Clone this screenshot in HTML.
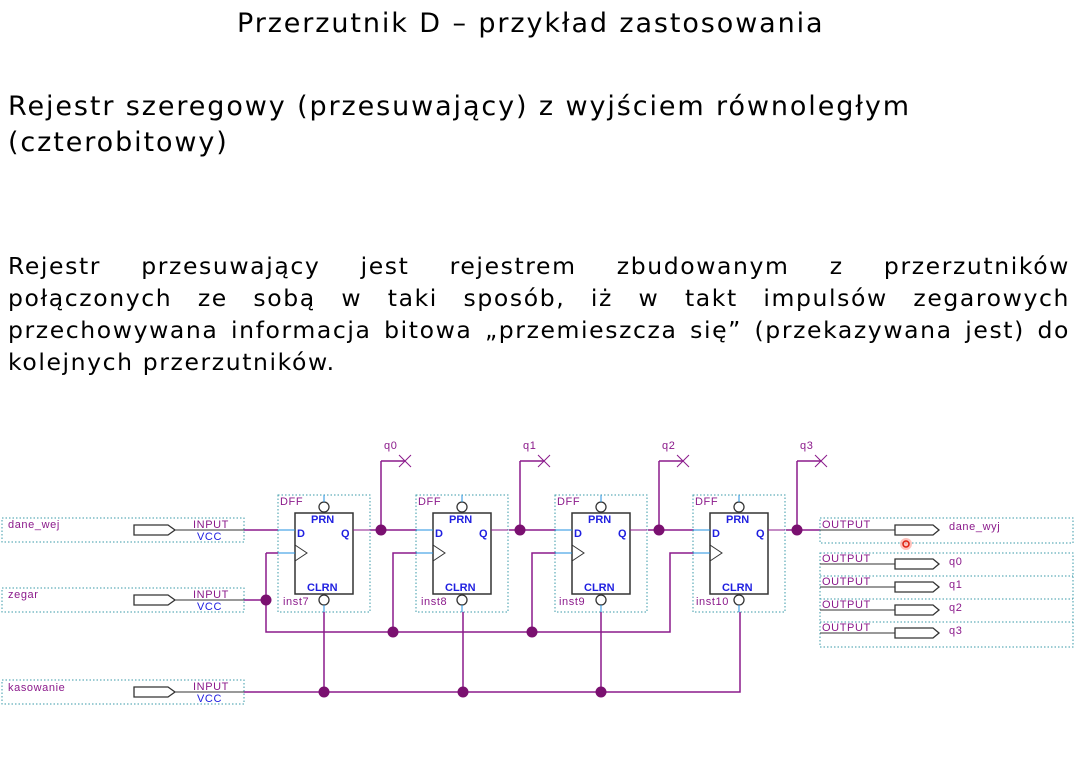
<!DOCTYPE html>
<html><head><meta charset="utf-8"><style>
body{margin:0;width:1075px;height:762px;background:#fff;overflow:hidden;position:relative;font-family:"DejaVu Sans","Liberation Sans",sans-serif;color:#000}
.t{position:absolute;white-space:nowrap;letter-spacing:1.9px}
.pl{position:absolute;left:8px;width:1062px;font-size:23.5px;line-height:32px;text-align:justify;text-align-last:justify;white-space:nowrap;letter-spacing:1.6px}
svg{position:absolute;left:0;top:0}
.dl{font-family:"Liberation Sans",sans-serif;font-size:11px;fill:#8b1a8b;letter-spacing:0.6px}
.bl{font-family:"Liberation Sans",sans-serif;font-size:11px;fill:#2020e0;font-weight:bold}
</style></head><body>
<div class="t" style="left:237px;top:8px;font-size:27px">Przerzutnik D – przykład zastosowania</div>
<div class="t" style="left:8px;top:89px;font-size:27px;line-height:36px">Rejestr szeregowy (przesuwający) z wyjściem równoległym<br>(czterobitowy)</div>
<div class="pl" style="top:250px">Rejestr przesuwający jest rejestrem zbudowanym z przerzutników</div>
<div class="pl" style="top:282px">połączonych ze sobą w taki sposób, iż w takt impulsów zegarowych</div>
<div class="pl" style="top:314px">przechowywana informacja bitowa „przemieszcza się” (przekazywana jest) do</div>
<div class="pl" style="top:346px;text-align-last:left">kolejnych przerzutników.</div>
<svg width="1075" height="762" viewBox="0 0 1075 762">
<defs>
<g id="dff">
<rect x="278" y="495" width="92" height="117" fill="none" stroke="#3a9aa8" stroke-dasharray="1.5,2"/>
<text x="280" y="505" class="dl">DFF</text>
<rect x="295" y="513" width="58" height="81" fill="#fff" stroke="#333" stroke-width="1.5"/>
<circle cx="324" cy="507" r="5" fill="#fff" stroke="#333" stroke-width="1.3"/>
<circle cx="324" cy="600" r="5" fill="#fff" stroke="#333" stroke-width="1.3"/>
<line x1="324" y1="495" x2="324" y2="502" stroke="#2090e0"/>
<line x1="324" y1="605" x2="324" y2="612" stroke="#2090e0"/>
<path d="M295 545 L307 553 L295 561" fill="none" stroke="#333"/>
<line x1="278" y1="530" x2="295" y2="530" stroke="#2090e0"/>
<line x1="278" y1="553" x2="295" y2="553" stroke="#2090e0"/>
<text x="311" y="523" class="bl" font-size="10">PRN</text>
<text x="297" y="537" class="bl">D</text>
<text x="341" y="537" class="bl">Q</text>
<text x="307" y="591" class="bl" font-size="10">CLRN</text>
<line x1="353" y1="530" x2="370" y2="530" stroke="#8b1a8b"/>
</g>
<g id="inp">
<rect x="2" y="-12" width="242" height="24" fill="none" stroke="#3a9aa8" stroke-dasharray="1.5,2"/>
<path d="M134 -5 H168 L175 0 L168 5 H134 Z" fill="#fff" stroke="#333" stroke-width="1.3"/>
<line x1="175" y1="0" x2="244" y2="0" stroke="#333"/>
<text x="193" y="-2" class="dl">INPUT</text>
<text x="197" y="10" class="dl" style="fill:#2020e0">VCC</text>
</g>
<g id="out">
<text x="822" y="-2" class="dl">OUTPUT</text>
<line x1="820" y1="0" x2="895" y2="0" stroke="#333"/>
<path d="M895 -5 H933 L939 0 L933 5 H895 Z" fill="#fff" stroke="#333" stroke-width="1.3"/>
</g>
<g id="qtap">
<line x1="381" y1="530" x2="381" y2="461" stroke="#8b1a8b" stroke-width="1.5"/>
<line x1="381" y1="461" x2="405" y2="461" stroke="#8b1a8b" stroke-width="1.5"/>
<path d="M399 455 L411 467 M399 467 L411 455" stroke="#8b1a8b"/>
<circle cx="381" cy="530" r="5.5" fill="#7a1070"/>
</g>
</defs>
<g stroke="#8b1a8b" stroke-width="1.5" fill="none">
<path d="M244 530 H278 M370 530 H417 M509 530 H556 M648 530 H694 M786 530 H820"/>
<path d="M244 600 H266 M266 553 V632 H670 V553 H694 M266 553 H278 M393 632 V553 H417 M532 632 V553 H556"/>
<path d="M244 692 H740 V612 M324 612 V692 M463 612 V692 M601 612 V692"/>
</g>
<use href="#dff"/><use href="#dff" transform="translate(138,0)"/><use href="#dff" transform="translate(277,0)"/><use href="#dff" transform="translate(415,0)"/>
<text x="283" y="605" class="dl">inst7</text>
<text x="421" y="605" class="dl">inst8</text>
<text x="559" y="605" class="dl">inst9</text>
<text x="696" y="605" class="dl">inst10</text>
<use href="#qtap"/><use href="#qtap" transform="translate(139,0)"/><use href="#qtap" transform="translate(278,0)"/><use href="#qtap" transform="translate(416,0)"/>
<text x="384" y="449" class="dl">q0</text><text x="523" y="449" class="dl">q1</text><text x="662" y="449" class="dl">q2</text><text x="800" y="449" class="dl">q3</text>
<g fill="#7a1070"><circle cx="266" cy="600" r="5.5"/><circle cx="393" cy="632" r="5.5"/><circle cx="532" cy="632" r="5.5"/><circle cx="324" cy="692" r="5.5"/><circle cx="463" cy="692" r="5.5"/><circle cx="601" cy="692" r="5.5"/></g>
<use href="#inp" transform="translate(0,530)"/><use href="#inp" transform="translate(0,600)"/><use href="#inp" transform="translate(0,692)"/>
<text x="8" y="528" class="dl">dane_wej</text><text x="8" y="598" class="dl">zegar</text><text x="8" y="691" class="dl">kasowanie</text>
<rect x="820" y="518" width="253" height="25" fill="none" stroke="#3a9aa8" stroke-dasharray="1.5,2"/>
<rect x="820" y="553" width="253" height="94" fill="none" stroke="#3a9aa8" stroke-dasharray="1.5,2"/>
<path d="M820 576 H1073 M820 599 H1073 M820 622 H1073" stroke="#3a9aa8" stroke-dasharray="1.5,2"/>
<use href="#out" transform="translate(0,530)"/><use href="#out" transform="translate(0,564)"/><use href="#out" transform="translate(0,587)"/><use href="#out" transform="translate(0,610)"/><use href="#out" transform="translate(0,633)"/>
<text x="949" y="530" class="dl">dane_wyj</text><text x="949" y="565" class="dl">q0</text><text x="949" y="588" class="dl">q1</text><text x="949" y="611" class="dl">q2</text><text x="949" y="634" class="dl">q3</text>
<circle cx="906" cy="544" r="6" fill="#ff9a90" opacity="0.6"/><circle cx="906" cy="544" r="3" fill="none" stroke="#e02010" stroke-width="1.5"/>
</svg>
</body></html>
